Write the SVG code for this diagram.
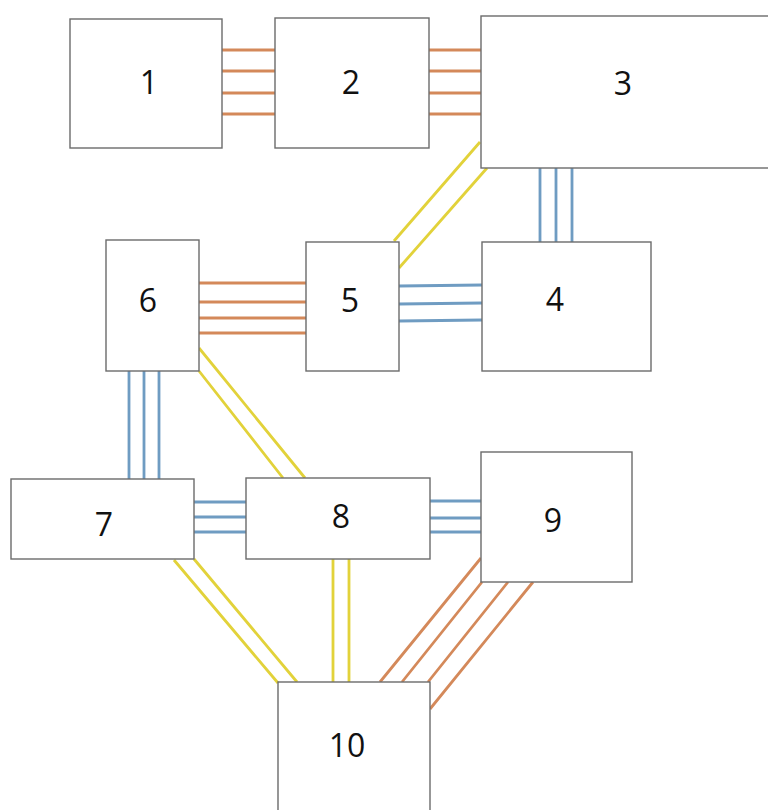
<svg xmlns="http://www.w3.org/2000/svg" width="768" height="810" viewBox="0 0 768 810">
<style>
.box{fill:#fff;stroke:#6b6b6b;stroke-width:1.4}
.lbl{font-family:"Open Sans","Liberation Sans",sans-serif;font-size:32px;fill:#111;text-anchor:middle}
.o{stroke:#d4895a;stroke-width:2.8;fill:none}
.b{stroke:#6f9cc2;stroke-width:2.8;fill:none}
.y{stroke:#e2d23a;stroke-width:2.8;fill:none}
</style>
<rect width="768" height="810" fill="#fff"/>
<g id="connectors">
  <!-- 1-2 orange -->
  <path class="o" d="M222 50H275M222 71H275M222 93H275M222 114H275"/>
  <!-- 2-3 orange -->
  <path class="o" d="M429 50H481M429 71H481M429 93H481M429 114H481"/>
  <!-- 3-4 blue -->
  <path class="b" d="M540 168V242M556 168V242M572 168V242"/>
  <!-- 3-5 yellow -->
  <path class="y" d="M480 142L394 241M487 168L399 268"/>
  <!-- 5-4 blue -->
  <path class="b" d="M399 286L482 285M399 304L482 303M399 321L482 320"/>
  <!-- 6-5 orange -->
  <path class="o" d="M199 283H306M199 302H306M199 318H306M199 333H306"/>
  <!-- 6-7 blue -->
  <path class="b" d="M129 371V479M144 371V479M159 371V479"/>
  <!-- 6-8 yellow -->
  <path class="y" d="M199 348L305 478M199 371L283 478"/>
  <!-- 7-8 blue -->
  <path class="b" d="M194 502H246M194 517H246M194 532H246"/>
  <!-- 8-9 blue -->
  <path class="b" d="M430 501H481M430 518H481M430 532H481"/>
  <!-- 7-10 yellow -->
  <path class="y" d="M174 560L278 683M194 559L297 682"/>
  <!-- 8-10 yellow -->
  <path class="y" d="M333 559V682M349 559V682"/>
  <!-- 9-10 orange -->
  <path class="o" d="M481 558L380 682M482 582L402 682M508 582L428 682M533 582L430 709"/>
</g>
<g id="node1"><rect class="box" x="70" y="19" width="152" height="129"/><text class="lbl" x="149" y="94">1</text></g>
<g id="node2"><rect class="box" x="275" y="18" width="154" height="130"/><text class="lbl" x="351" y="94">2</text></g>
<g id="node3"><rect class="box" x="481" y="16" width="300" height="152"/><text class="lbl" x="623" y="95">3</text></g>
<g id="node4"><rect class="box" x="482" y="242" width="169" height="129"/><text class="lbl" x="555" y="311">4</text></g>
<g id="node5"><rect class="box" x="306" y="242" width="93" height="129"/><text class="lbl" x="350" y="312">5</text></g>
<g id="node6"><rect class="box" x="106" y="240" width="93" height="131"/><text class="lbl" x="148" y="312">6</text></g>
<g id="node7"><rect class="box" x="11" y="479" width="183" height="80"/><text class="lbl" x="104" y="536">7</text></g>
<g id="node8"><rect class="box" x="246" y="478" width="184" height="81"/><text class="lbl" x="341" y="528">8</text></g>
<g id="node9"><rect class="box" x="481" y="452" width="151" height="130"/><text class="lbl" x="553" y="532">9</text></g>
<g id="node10"><rect class="box" x="278" y="682" width="152" height="140"/><text class="lbl" x="347" y="757">10</text></g>
</svg>
